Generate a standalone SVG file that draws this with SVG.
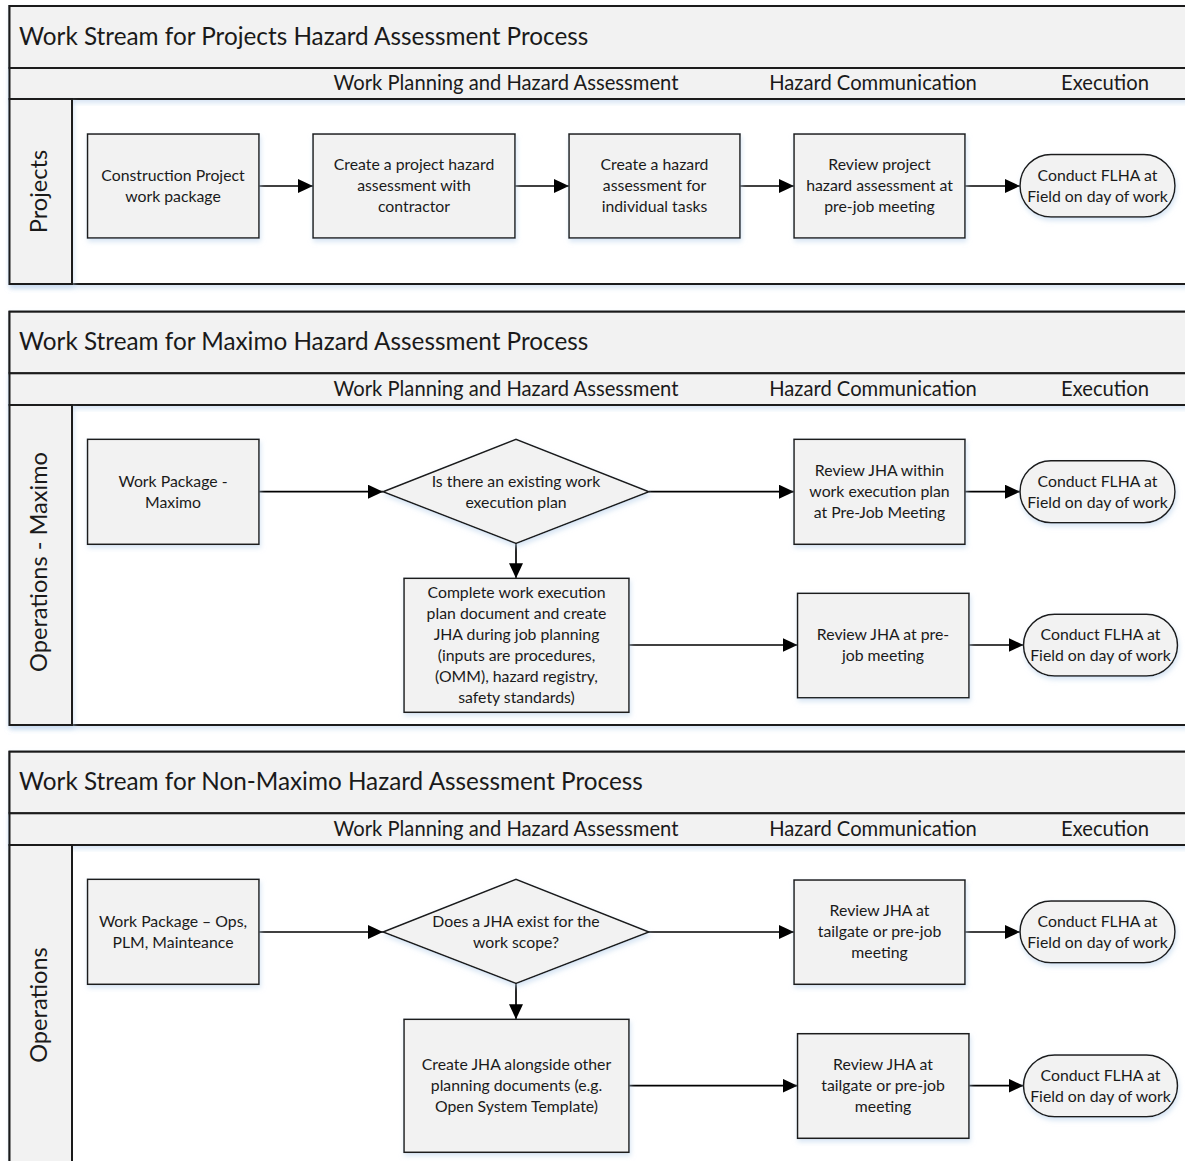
<svg xmlns="http://www.w3.org/2000/svg" width="1185" height="1161" viewBox="0 0 1185 1161">
<defs>
<style>
.pool{fill:#ffffff;stroke:#1a1a1a;stroke-width:2}
.band{fill:#f2f2f2;stroke:#1a1a1a;stroke-width:2}
.box{fill:#f2f2f2;stroke:#1a1a1a;stroke-width:1.5}
.title{font-family:Lato,"Liberation Sans",sans-serif;font-size:24.3px;fill:#1a1a1a}
.phase{font-family:Lato,"Liberation Sans",sans-serif;font-size:20.2px;fill:#1a1a1a;text-anchor:middle}
.lane{font-family:Lato,"Liberation Sans",sans-serif;font-size:23.6px;fill:#1a1a1a;text-anchor:middle}
.t{font-family:Lato,"Liberation Sans",sans-serif;font-size:15.8px;fill:#1a1a1a;text-anchor:middle}
.c{fill:none;stroke:#000;stroke-width:1.7;marker-end:url(#ah)}
</style>
<marker id="ah" markerUnits="userSpaceOnUse" markerWidth="15" markerHeight="14" refX="15" refY="7" orient="auto">
<path d="M0,0 L15,7 L0,14 z" fill="#000"/>
</marker>
<filter id="sh" x="-10%" y="-10%" width="120%" height="130%">
<feGaussianBlur in="SourceAlpha" stdDeviation="2.5"/>
<feOffset dx="1" dy="3" result="b"/>
<feFlood flood-color="#bcd3ec" flood-opacity="0.6"/>
<feComposite in2="b" operator="in"/>
<feMerge><feMergeNode/><feMergeNode in="SourceGraphic"/></feMerge>
</filter>
</defs>
<rect width="1185" height="1161" fill="#ffffff"/>

<!-- Pool 1 -->
<g id="pool1">
<rect x="9.5" y="6" width="1190" height="278" class="pool" filter="url(#sh)"/>
<rect x="9.5" y="6" width="1190" height="62" class="band"/>
<rect x="9.5" y="68" width="1190" height="31" class="band" filter="url(#sh)"/>
<rect x="9.5" y="99" width="62.5" height="185" class="band" filter="url(#sh)"/>
<text class="title" x="19" y="44.5">Work Stream for Projects Hazard Assessment Process</text>
<text class="phase" x="506" y="90">Work Planning and Hazard Assessment</text>
<text class="phase" x="873" y="90">Hazard Communication</text>
<text class="phase" x="1105" y="90">Execution</text>
<text class="lane" transform="translate(47,191.5) rotate(-90)">Projects</text>
</g>

<!-- Pool 2 -->
<g id="pool2">
<rect x="9.5" y="311.7" width="1190" height="413.3" class="pool" filter="url(#sh)"/>
<rect x="9.5" y="311.7" width="1190" height="61.6" class="band"/>
<rect x="9.5" y="373.3" width="1190" height="31.7" class="band" filter="url(#sh)"/>
<rect x="9.5" y="405" width="62.5" height="320" class="band" filter="url(#sh)"/>
<text class="title" x="19" y="350">Work Stream for Maximo Hazard Assessment Process</text>
<text class="phase" x="506" y="396">Work Planning and Hazard Assessment</text>
<text class="phase" x="873" y="396">Hazard Communication</text>
<text class="phase" x="1105" y="396">Execution</text>
<text class="lane" transform="translate(47,562) rotate(-90)">Operations - Maximo</text>
</g>

<!-- Pool 3 -->
<g id="pool3">
<rect x="9.5" y="751.7" width="1190" height="420" class="pool" filter="url(#sh)"/>
<rect x="9.5" y="751.7" width="1190" height="61.6" class="band"/>
<rect x="9.5" y="813.3" width="1190" height="31.7" class="band" filter="url(#sh)"/>
<rect x="9.5" y="845" width="62.5" height="330" class="band"/>
<text class="title" x="19" y="790">Work Stream for Non-Maximo Hazard Assessment Process</text>
<text class="phase" x="506" y="836">Work Planning and Hazard Assessment</text>
<text class="phase" x="873" y="836">Hazard Communication</text>
<text class="phase" x="1105" y="836">Execution</text>
<text class="lane" transform="translate(47,1005) rotate(-90)">Operations</text>
</g>

<!-- Connectors -->
<g id="connectors">
<line class="c" x1="259" y1="186" x2="313" y2="186"/>
<line class="c" x1="515" y1="186" x2="569" y2="186"/>
<line class="c" x1="740" y1="186" x2="794" y2="186"/>
<line class="c" x1="965" y1="186" x2="1020" y2="186"/>

<line class="c" x1="259" y1="491.7" x2="383" y2="491.7"/>
<line class="c" x1="649" y1="491.7" x2="794" y2="491.7"/>
<line class="c" x1="965" y1="491.7" x2="1020" y2="491.7"/>
<line class="c" x1="516" y1="543.5" x2="516" y2="578.3"/>
<line class="c" x1="629" y1="645" x2="797.5" y2="645"/>
<line class="c" x1="969" y1="645" x2="1023.5" y2="645"/>

<line class="c" x1="259" y1="932" x2="383" y2="932"/>
<line class="c" x1="649" y1="932" x2="794" y2="932"/>
<line class="c" x1="965" y1="932" x2="1020" y2="932"/>
<line class="c" x1="516" y1="983.5" x2="516" y2="1019.3"/>
<line class="c" x1="629" y1="1085.7" x2="797.5" y2="1085.7"/>
<line class="c" x1="969" y1="1085.7" x2="1023.5" y2="1085.7"/>
</g>

<!-- Pool 1 nodes -->
<g id="p1n1"><rect class="box" x="87.5" y="134" width="171.5" height="104" filter="url(#sh)"/>
<text class="t" x="173" y="180.5">Construction Project</text><text class="t" x="173" y="201.5">work package</text></g>
<g id="p1n2"><rect class="box" x="313" y="134" width="202" height="104" filter="url(#sh)"/>
<text class="t" x="414" y="170">Create a project hazard</text><text class="t" x="414" y="191">assessment with</text><text class="t" x="414" y="212">contractor</text></g>
<g id="p1n3"><rect class="box" x="569" y="134" width="171" height="104" filter="url(#sh)"/>
<text class="t" x="654.5" y="170">Create a hazard</text><text class="t" x="654.5" y="191">assessment for</text><text class="t" x="654.5" y="212">individual tasks</text></g>
<g id="p1n4"><rect class="box" x="794" y="134" width="171" height="104" filter="url(#sh)"/>
<text class="t" x="879.5" y="170">Review project</text><text class="t" x="879.5" y="191">hazard assessment at</text><text class="t" x="879.5" y="212">pre-job meeting</text></g>
<g id="p1n5"><rect class="box" x="1020" y="154.5" width="155" height="62.5" rx="31" ry="31" filter="url(#sh)"/>
<text class="t" x="1097.5" y="180.5">Conduct FLHA at</text><text class="t" x="1097.5" y="201.5">Field on day of work</text></g>

<!-- Pool 2 nodes -->
<g id="p2n1"><rect class="box" x="87.5" y="439.3" width="171.5" height="105" filter="url(#sh)"/>
<text class="t" x="173" y="486.5">Work Package -</text><text class="t" x="173" y="507.5">Maximo</text></g>
<g id="p2d"><polygon class="box" points="383,491.7 516,439.3 649,491.7 516,543.5" filter="url(#sh)"/>
<text class="t" x="516" y="486.5">Is there an existing work</text><text class="t" x="516" y="507.5">execution plan</text></g>
<g id="p2n2"><rect class="box" x="794" y="439.3" width="171" height="105" filter="url(#sh)"/>
<text class="t" x="879.5" y="476">Review JHA within</text><text class="t" x="879.5" y="497">work execution plan</text><text class="t" x="879.5" y="518">at Pre-Job Meeting</text></g>
<g id="p2n3"><rect class="box" x="1020" y="460.7" width="155" height="62" rx="31" ry="31" filter="url(#sh)"/>
<text class="t" x="1097.5" y="486.5">Conduct FLHA at</text><text class="t" x="1097.5" y="507.5">Field on day of work</text></g>
<g id="p2n4"><rect class="box" x="404" y="578.3" width="225" height="134" filter="url(#sh)"/>
<text class="t" x="516.5" y="597.5">Complete work execution</text><text class="t" x="516.5" y="618.5">plan document and create</text><text class="t" x="516.5" y="639.5">JHA during job planning</text><text class="t" x="516.5" y="660.5">(inputs are procedures,</text><text class="t" x="516.5" y="681.5">(OMM), hazard registry,</text><text class="t" x="516.5" y="702.5">safety standards)</text></g>
<g id="p2n5"><rect class="box" x="797.5" y="593.3" width="171.5" height="104.5" filter="url(#sh)"/>
<text class="t" x="883" y="640">Review JHA at pre-</text><text class="t" x="883" y="661">job meeting</text></g>
<g id="p2n6"><rect class="box" x="1023.5" y="614.3" width="154" height="61.7" rx="31" ry="31" filter="url(#sh)"/>
<text class="t" x="1100.5" y="640">Conduct FLHA at</text><text class="t" x="1100.5" y="661">Field on day of work</text></g>

<!-- Pool 3 nodes -->
<g id="p3n1"><rect class="box" x="87.5" y="879.3" width="171.5" height="105" filter="url(#sh)"/>
<text class="t" x="173" y="926.5">Work Package – Ops,</text><text class="t" x="173" y="947.5">PLM, Mainteance</text></g>
<g id="p3d"><polygon class="box" points="383,932 516,879.3 649,932 516,983.5" filter="url(#sh)"/>
<text class="t" x="516" y="926.5">Does a JHA exist for the</text><text class="t" x="516" y="947.5">work scope?</text></g>
<g id="p3n2"><rect class="box" x="794" y="880" width="171" height="104.3" filter="url(#sh)"/>
<text class="t" x="879.5" y="916">Review JHA at</text><text class="t" x="879.5" y="937">tailgate or pre-job</text><text class="t" x="879.5" y="958">meeting</text></g>
<g id="p3n3"><rect class="box" x="1020" y="901" width="155" height="61.7" rx="31" ry="31" filter="url(#sh)"/>
<text class="t" x="1097.5" y="927">Conduct FLHA at</text><text class="t" x="1097.5" y="948">Field on day of work</text></g>
<g id="p3n4"><rect class="box" x="404" y="1019.3" width="225" height="133" filter="url(#sh)"/>
<text class="t" x="516.5" y="1070">Create JHA alongside other</text><text class="t" x="516.5" y="1091">planning documents (e.g.</text><text class="t" x="516.5" y="1112">Open System Template)</text></g>
<g id="p3n5"><rect class="box" x="797.5" y="1033.7" width="171.5" height="104.6" filter="url(#sh)"/>
<text class="t" x="883" y="1070">Review JHA at</text><text class="t" x="883" y="1091">tailgate or pre-job</text><text class="t" x="883" y="1112">meeting</text></g>
<g id="p3n6"><rect class="box" x="1023.5" y="1055" width="154" height="61.7" rx="31" ry="31" filter="url(#sh)"/>
<text class="t" x="1100.5" y="1081">Conduct FLHA at</text><text class="t" x="1100.5" y="1102">Field on day of work</text></g>
</svg>
